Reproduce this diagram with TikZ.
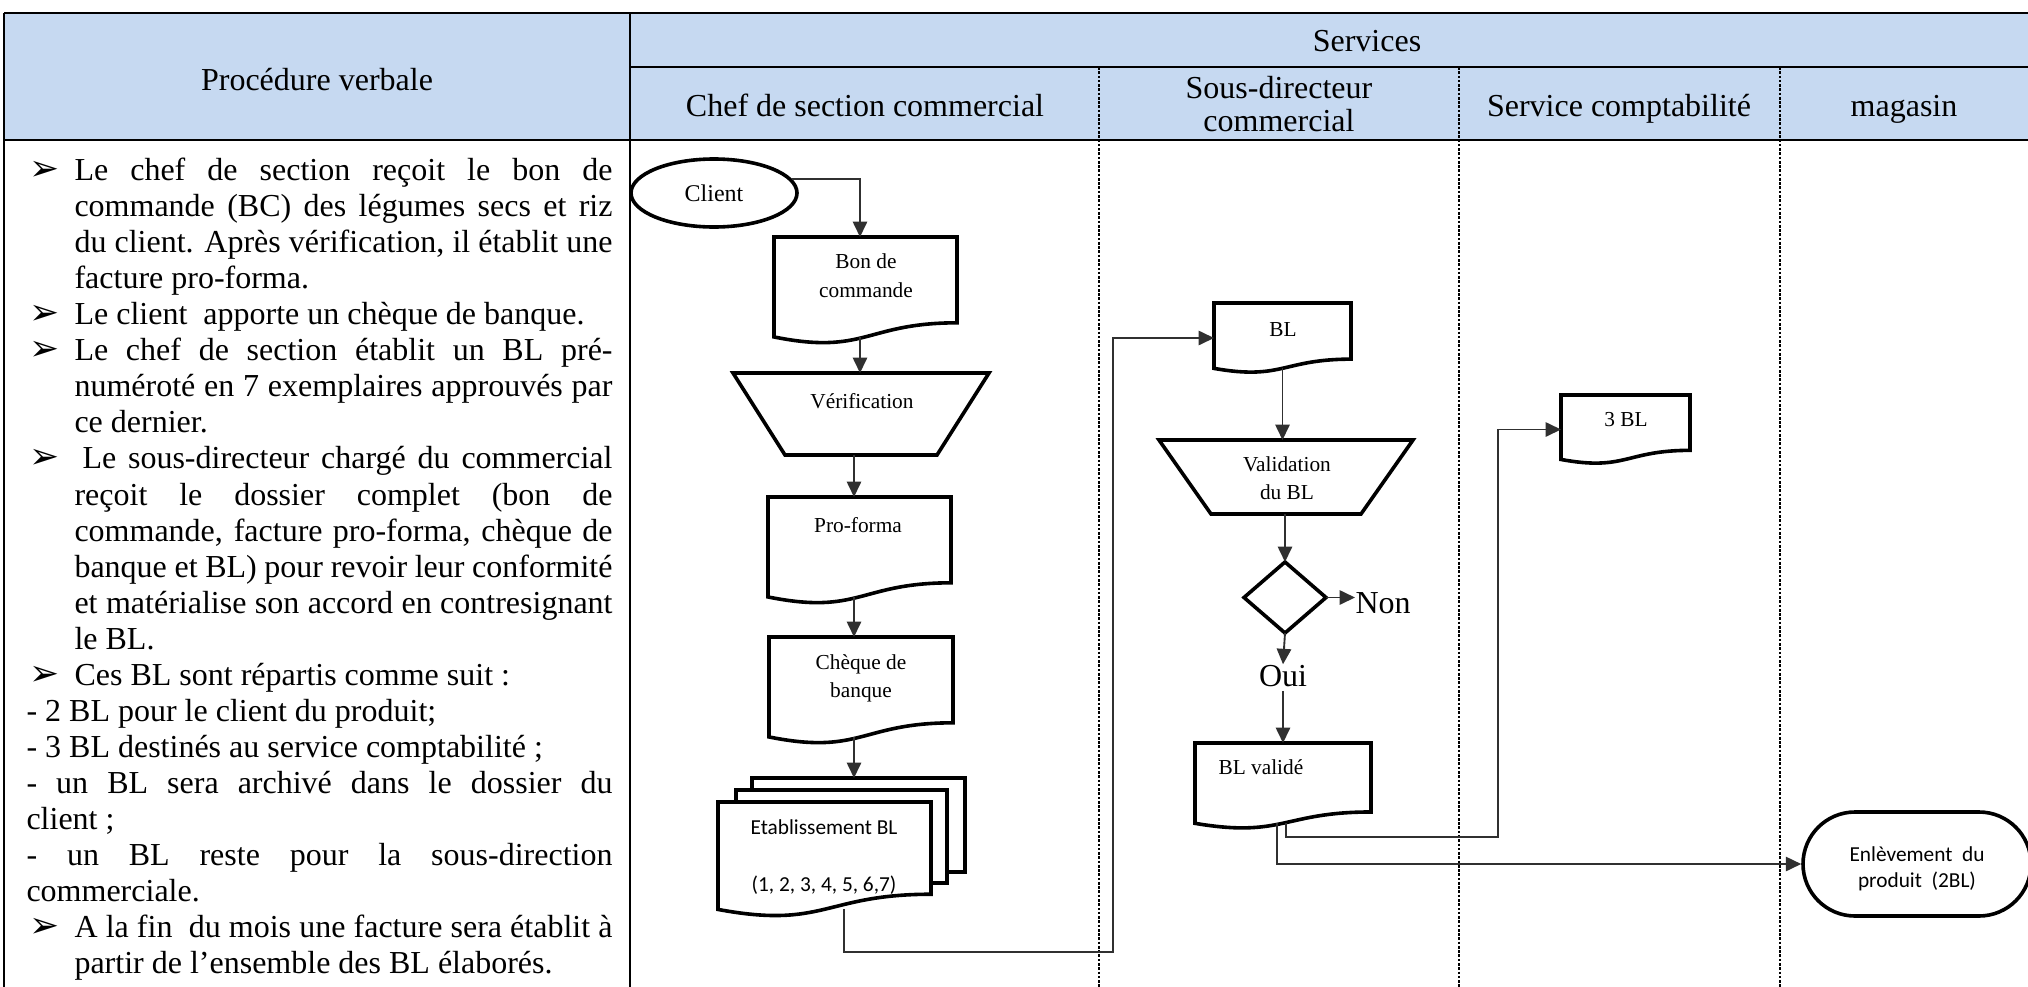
\documentclass[tikz,border=0pt]{standalone}
\usepackage{fontspec}
\setmainfont{Liberation Serif}
\newfontfamily\calibrifont{Carlito}
\newfontfamily\symbolfont{DejaVu Sans}
\usetikzlibrary{arrows.meta,calc,shapes.geometric,shapes.misc}

\definecolor{headblue}{HTML}{C6D9F1}
\definecolor{linkgray}{HTML}{303030}

\tikzset{
  tablerule/.style={line width=0.8pt, black},
  laneline/.style={line width=0.5pt, black, dash pattern=on 1pt off 0.6pt},
  shapeline/.style={line width=1.35pt, black, line join=miter},
  shapeframe/.style={rectangle, draw=none, inner sep=0pt, outer sep=0pt},
  flowarrow/.style={line width=0.7pt, linkgray, -{Triangle[length=5.8pt,width=5.4pt]}},
  txhead/.style={font=\fontsize{12}{13.5}\selectfont, anchor=base, inner sep=0pt},
  txbody/.style={font=\fontsize{12}{13.5}\selectfont, anchor=base west, inner sep=0pt},
  txbullet/.style={font=\symbolfont\fontsize{13.5}{14}\selectfont, anchor=base west, inner sep=0pt},
  txsmall/.style={font=\fontsize{8}{10}\selectfont, anchor=base, inner sep=0pt},
  txsans/.style={font=\calibrifont\fontsize{8}{10}\selectfont, anchor=base, inner sep=0pt},
  txbig/.style={font=\fontsize{12}{13}\selectfont, inner sep=0pt},
}

% invisible rectangle node given left, top, width, height (pixel units)
\newcommand\framenode[5]{%
  \pgfmathsetmacro\fnw{#4*0.375}%
  \pgfmathsetmacro\fnh{#5*0.375}%
  \node[shapeframe, minimum width=\fnw pt, minimum height=\fnh pt, anchor=north west] (#1) at (#2,#3) {};}

% flowchart "document" symbol with a wavy bottom edge
\newcommand\docshape[5]{%
  \framenode{#1}{#2}{#3}{#4}{#5}%
  \draw[shapeline, fill=white] (#1.north west) -- (#1.north east)
    -- ($(#1.north east)!0.802!(#1.south east)$)
    .. controls ($(#1.north)!0.802!(#1.south)$) and ($(#1.north)!1.107!(#1.south)$)
    .. ($(#1.north west)!0.934!(#1.south west)$) -- cycle;
  \coordinate (#1-b) at ($(#1.north)!0.933!(#1.south)$);}

% manual operation symbol (wide side on top)
\newcommand\trapshape[6]{%
  \framenode{#1}{#2}{#3}{#4}{#5}%
  \draw[shapeline, fill=white] (#1.north west) -- (#1.north east)
    -- ($(#1.south east)+(-#6,0)$) -- ($(#1.south west)+(#6,0)$) -- cycle;}

% justified lines of the left column
\newcommand\jl[1]{\makebox[201.75pt][s]{#1}}
\newcommand\jd[1]{\makebox[219.75pt][s]{#1}}
\newcommand\jb[1]{\makebox[198.75pt][s]{#1}}

\begin{document}
\begin{tikzpicture}[x=0.375pt,y=-0.375pt]
\useasboundingbox (0,0) rectangle (2028,986);
\clip (0,0) rectangle (2028,986);

% ---------- table ----------
\fill[headblue] (4,13) rectangle (2032,140);
\foreach \lx in {1099,1459,1780} \draw[laneline] (\lx,67) -- (\lx,990);
\draw[tablerule] (4,13) -- (2032,13);
\draw[tablerule] (630,67) -- (2032,67);
\draw[tablerule, line width=1.1pt] (4,140) -- (2032,140);
\draw[tablerule] (4,13) -- (4,990);
\draw[tablerule] (630,13) -- (630,990);

\node[txhead] (h-proc) at (317,90) {Procédure verbale};
\node[txhead] (h-serv) at (1367,51) {Services};
\node[txhead] (h-chef) at (865,116) {Chef de section commercial};
\node[txhead] (h-sd1) at (1279,98) {Sous-directeur};
\node[txhead] (h-sd2) at (1279,131) {commercial};
\node[txhead] (h-compta) at (1619,116) {Service comptabilité};
\node[txhead] (h-mag) at (1904,116) {magasin};

% ---------- verbal procedure ----------
\node[txbullet] (b1) at (29,180) {➢};
\node[txbody] (p1) at (74,180) {\jl{Le chef de section reçoit le bon de}};
\node[txbody] (p2) at (74,216) {\jl{commande (BC) des légumes secs et riz}};
\node[txbody] (p3) at (74,252) {\jl{du client. Après vérification, il établit une}};
\node[txbody] (p4) at (74,288) {facture pro-forma.};
\node[txbullet] (b2) at (29,324) {➢};
\node[txbody] (p5) at (74,324) {Le client\ \ apporte un chèque de banque.};
\node[txbullet] (b3) at (29,360) {➢};
\node[txbody] (p6) at (74,360) {\jl{Le chef de section établit un BL pré-}};
\node[txbody] (p7) at (74,396) {\jl{numéroté en 7 exemplaires approuvés par}};
\node[txbody] (p8) at (74,432) {ce dernier.};
\node[txbullet] (b4) at (29,468) {➢};
\node[txbody] (p9) at (82,468) {\jb{Le sous-directeur chargé du commercial}};
\node[txbody] (p10) at (74,505) {\jl{reçoit le dossier complet (bon de}};
\node[txbody] (p11) at (74,541) {\jl{commande, facture pro-forma, chèque de}};
\node[txbody] (p12) at (74,577) {\jl{banque et BL) pour revoir leur conformité}};
\node[txbody] (p13) at (74,613) {\jl{et matérialise son accord en contresignant}};
\node[txbody] (p14) at (74,649) {le BL.};
\node[txbullet] (b5) at (29,685) {➢};
\node[txbody] (p15) at (74,685) {Ces BL sont répartis comme suit :};
\node[txbody] (p16) at (26,721) {- 2 BL pour le client du produit;};
\node[txbody] (p17) at (26,757) {- 3 BL destinés au service comptabilité ;};
\node[txbody] (p18) at (26,793) {\jd{- un BL sera archivé dans le dossier du}};
\node[txbody] (p19) at (26,829) {client ;};
\node[txbody] (p20) at (26,865) {\jd{- un BL reste pour la sous-direction}};
\node[txbody] (p21) at (26,901) {commerciale.};
\node[txbullet] (b6) at (29,937) {➢};
\node[txbody] (p22) at (74,937) {\jl{A la fin\ \ du mois une facture sera établit à}};
\node[txbody] (p23) at (74,973) {partir de l’ensemble des BL élaborés.};

% ---------- lane: chef de section commercial ----------
\node[ellipse, draw, shapeline, fill=white, minimum width=62.25pt, minimum height=25.5pt,
      inner sep=0pt, font=\fontsize{9}{10}\selectfont] (client) at (714,193) {Client};

\docshape{bdc}{774}{237}{183}{107}
\node[txsmall] (bdc-t1) at (866,268) {Bon de};
\node[txsmall] (bdc-t2) at (866,297) {commande};

\trapshape{verif}{733}{373}{256}{82}{52}
\node[txsmall] (verif-t) at (862,408) {Vérification};

\docshape{pro}{768}{497}{183}{107}
\node[txsmall] (pro-t) at (858,532) {Pro-forma};

\docshape{chq}{769}{637}{184}{107}
\node[txsmall] (chq-t1) at (861,669) {Chèque de};
\node[txsmall] (chq-t2) at (861,697) {banque};

\framenode{etab3}{752}{778}{213}{94}
\draw[shapeline, fill=white] (etab3.north west) rectangle (etab3.south east);
\framenode{etab2}{736}{790}{211}{93}
\draw[shapeline, fill=white] (etab2.north west) rectangle (etab2.south east);
\docshape{etab}{718}{802}{213}{115}
\node[txsans] (etab-t1) at (824,834) {Etablissement BL};
\node[txsans] (etab-t2) at (824,891) {(1, 2, 3, 4, 5, 6,7)};

% ---------- lane: sous-directeur commercial ----------
\docshape{bl}{1214}{303}{137}{70}
\node[txsmall] (bl-t) at (1283,336) {BL};

\trapshape{val}{1159}{440}{254}{74}{52}
\node[txsmall] (val-t1) at (1287,471) {Validation};
\node[txsmall] (val-t2) at (1287,499) {du BL};

\framenode{dec}{1244}{562}{82}{71}
\draw[shapeline, fill=white] (dec.north) -- (dec.east) -- (dec.south) -- (dec.west) -- cycle;
\node[txbig, anchor=base west] (non) at (1355,613) {Non};
\node[txbig, anchor=base] (oui) at (1283,686) {Oui};

\docshape{blv}{1195}{743}{176}{86}
\node[txsmall, anchor=base west] (blv-t) at (1218,774) {BL validé};

% ---------- lane: service comptabilité ----------
\docshape{tbl}{1561}{395}{129}{69}
\node[txsmall] (tbl-t) at (1626,426) {3 BL};

% ---------- lane: magasin ----------
\node[rounded rectangle, draw, shapeline, fill=white, minimum width=85.5pt,
      minimum height=39pt, inner sep=0pt] (enl) at (1917,864) {};
\begin{scope}
  \clip (1800,800) rectangle (2030,890);
  \node[txsans] (enl-t1) at (1917,861) {Enlèvement\ \ du};
  \node[txsans] (enl-t2) at (1917,887) {produit\ \ (2BL)};
\end{scope}

% ---------- connectors ----------
\coordinate (cA) at (860,0);
\coordinate (cB) at (854,0);
\coordinate (cC) at (844,0);
\coordinate (cD) at (1286,0);
\coordinate (cE) at (1277,0);
\coordinate (r1) at (1113,952);
\coordinate (r2) at (1498,837);

\draw[flowarrow] (client.10) -| (bdc.north -| cA);
\draw[flowarrow] (bdc-b -| cA) -- (verif.north -| cA);
\draw[flowarrow] (verif.south -| cB) -- (pro.north -| cB);
\draw[flowarrow] (pro-b -| cB) -- (chq.north -| cB);
\draw[flowarrow] (chq-b -| cB) -- (etab3.north -| cB);
\draw[flowarrow] (etab-b -| cC) |- (r1) |- (bl.west);
\draw[flowarrow] (bl-b) -- (val.north -| bl-b);
\draw[flowarrow] (val.south -| dec.north) -- (dec.north);
\draw[flowarrow] (dec.east) -- (dec.east -| non.west);
\draw[flowarrow] (dec.south) -- (oui.north);
\draw[flowarrow, shorten <=1.5pt] (oui.south) -- (blv.north -| oui.south);
\draw[flowarrow] (blv-b -| cD) |- (r2) |- (tbl.west);
\draw[flowarrow] (blv-b -| cE) |- (enl.west);
\end{tikzpicture}
\end{document}
